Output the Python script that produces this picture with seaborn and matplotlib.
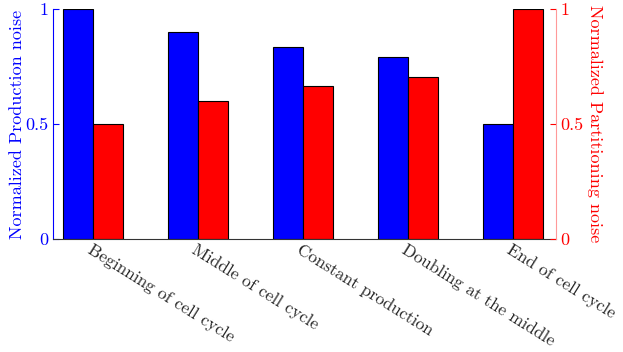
import pandas as pd
import seaborn as sns
import matplotlib.pyplot as plt

categories = ['Beginning of cell cycle', 'Middle of cell cycle', 'Constant production',
              'Doubling at the middle', 'End of cell cycle']
production_noise = [1.0, 0.9, 0.835, 0.79, 0.5]
partitioning_noise = [0.5, 0.6, 0.665, 0.705, 1.0]

df = pd.DataFrame({
    'condition': categories * 2,
    'value': production_noise + partitioning_noise,
    'kind': ['Production'] * 5 + ['Partitioning'] * 5,
})

sns.set_style('white')
plt.rcParams['font.family'] = ['cmr10', 'DejaVu Serif']
plt.rcParams['axes.unicode_minus'] = False
plt.rcParams['axes.formatter.use_mathtext'] = True

fig = plt.figure(figsize=(6.23, 3.52), dpi=100)
ax = fig.add_axes([0.085, 0.321, 0.807, 0.653])

sns.barplot(data=df, x='condition', y='value', hue='kind', ax=ax,
            palette={'Production': '#0000ff', 'Partitioning': '#ff0000'},
            width=0.57, edgecolor='black', linewidth=0.8, saturation=1,
            legend=False)

ax.set_xlim(-0.38, 4.41)
ax.set_ylim(0, 1)
ax.set_xlabel('')
ax.set_ylabel('Normalized Production noise', color='#0000ff', fontsize=13, labelpad=0)
ax.set_yticks([0, 0.5, 1])
ax.set_yticklabels(['0', '0.5', '1'])
ax.tick_params(axis='y', colors='#0000ff', direction='in', length=4, labelsize=13)
ax.tick_params(axis='x', length=0, labelsize=12.5, pad=2)
plt.setp(ax.get_xticklabels(), rotation=-32, ha='left', rotation_mode='anchor')

for s in ['top', 'right']:
    ax.spines[s].set_visible(False)
ax.spines['left'].set_color('#0000ff')
ax.spines['bottom'].set_color('#333333')

ax2 = ax.twinx()
ax2.set_ylim(0, 1)
ax2.set_yticks([0, 0.5, 1])
ax2.set_yticklabels(['0', '0.5', '1'])
ax2.set_ylabel('Normalized Partitioning noise', color='#ff0000', fontsize=13,
               rotation=-90, labelpad=14)
ax2.tick_params(axis='y', colors='#ff0000', direction='in', length=4, labelsize=13)
for s in ['top', 'left', 'bottom']:
    ax2.spines[s].set_visible(False)
ax2.spines['right'].set_color('#ff9999')

fig.savefig('out.png', dpi=100)
